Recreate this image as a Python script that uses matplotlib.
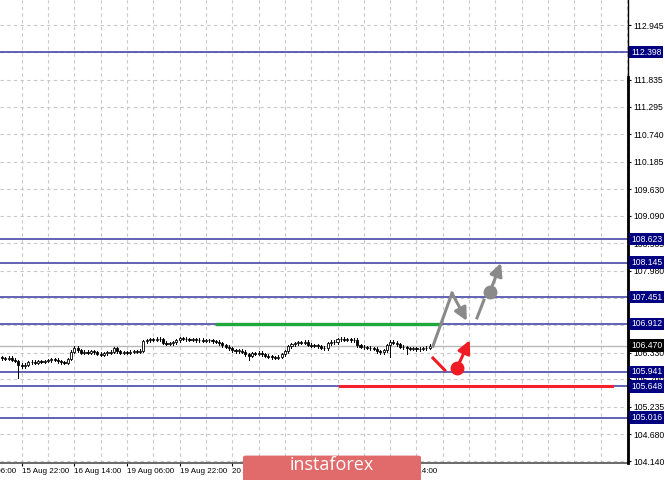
import matplotlib.pyplot as plt
from matplotlib.patches import Rectangle, FancyBboxPatch
from matplotlib.lines import Line2D

plt.rcParams['font.family'] = ['Liberation Sans', 'DejaVu Sans']

# Hourly closes (one per bar);
closes = [
    106.22, 106.20, 106.23, 106.19,
    106.16, 106.08, 106.05, 106.08,
    106.13, 106.14, 106.12, 106.15, 106.14, 106.16,
    106.17, 106.20, 106.19,
    106.15, 106.13, 106.12, 106.20,
    106.35, 106.43,
    106.38, 106.33, 106.35, 106.33, 106.36, 106.34,
    106.31, 106.29, 106.32, 106.33, 106.35,
    106.42,
    106.36, 106.33, 106.34,
    106.33, 106.35, 106.36, 106.35, 106.37,
    106.56,
    106.58, 106.60, 106.59, 106.61, 106.60,
    106.53, 106.51, 106.52, 106.54,
    106.58, 106.62, 106.61,
    106.60, 106.59, 106.60, 106.58, 106.59, 106.57, 106.58, 106.58, 106.56,
    106.55, 106.52, 106.48, 106.45, 106.42,
    106.38, 106.36, 106.37, 106.35,
    106.30, 106.27,
    106.32, 106.31, 106.33, 106.30,
    106.27, 106.25,
    106.24, 106.23, 106.25,
    106.30, 106.36,
    106.46,
    106.50, 106.52, 106.54, 106.53, 106.55,
    106.49, 106.47, 106.48, 106.46,
    106.43, 106.42,
    106.52, 106.55, 106.54,
    106.60, 106.61, 106.59, 106.60, 106.58, 106.59,
    106.48, 106.45, 106.44,
    106.43, 106.42, 106.41,
    106.36, 106.34, 106.38,
    106.48,
    106.55, 106.53, 106.50,
    106.45, 106.44,
    106.42, 106.41, 106.42, 106.40, 106.41, 106.42, 106.43, 106.47,
]
first_open = 106.24
long_lows = {5: 105.82, 75: 106.17, 118: 106.24, 123: 106.30}

# Axis ticks and labels;
x_tick_labels = ['15 Aug 06:00', '15 Aug 22:00', '16 Aug 14:00', '19 Aug 06:00',
                 '19 Aug 22:00', '20 Aug 14:00', '21 Aug 06:00', '21 Aug 22:00',
                 '22 Aug 14:00']
x_tick_first = -10
bars_per_tick = 16
y_ticks = [112.945, 112.390, 111.835, 111.295, 110.740, 110.185, 109.630, 109.090,
           108.535, 107.980, 107.440, 106.885, 106.330, 105.790, 105.235, 104.680,
           104.140]
# tick labels that sit fully under a level box;
y_hidden = [112.390, 107.440, 106.885]

# Levels and forecast paths;
levels = [112.398, 108.623, 108.145, 107.451, 106.912, 105.941, 105.648, 105.016]
current_price = 106.470
green_level = 106.912
green_span = [65.3, 133.1]
red_level = 105.648
red_span = [102.7, 185.4]
gray_path_x = [131.0, 136.8]
gray_path_y = [106.46, 107.53]
gray_arrow = [(136.8, 107.53), (141.3, 106.97)]
gray_dash = [(144.4, 107.03), (146.5, 107.39)]
gray_dot = (148.3, 107.55)
gray_arrow2 = [(148.3, 107.55), (151.7, 108.14)]
red_path_x = [131.0, 134.6]
red_path_y = [106.22, 105.975]
red_dot = (138.3, 106.02)
red_arrow = [(138.3, 106.02), (142.2, 106.58)]

fig = plt.figure(figsize=(6.65, 4.8), dpi=100)
ax = fig.add_axes([0, 17 / 480, 628 / 665, 463 / 480])

# Grid;
for k in range(-2, 25):
    ax.axvline(x_tick_first + 8 * k + 16, color='#c8c8c8',
               lw=0.8, ls=(0, (3, 3)), zorder=0)
for y in y_ticks:
    ax.axhline(y, color='#c8c8c8', lw=0.8, ls=(0, (3, 3)), zorder=0)

# Levels;
for lv in levels:
    ax.axhline(lv, color='#4848a8', lw=1.2, zorder=1)
    ax.annotate(f'{lv:.3f}', xy=(1.0, lv), xycoords=('axes fraction', 'data'),
                xytext=(2.2, 0), textcoords='offset points', va='center', ha='left',
                fontsize=6.2, color='white', annotation_clip=False, zorder=6,
                bbox=dict(boxstyle='square,pad=0.2', fc='#000080', ec='none'))
ax.axhline(current_price, color='#b8b8b8', lw=1, zorder=1)
ax.annotate(f'{current_price:.3f}', xy=(1.0, current_price),
            xycoords=('axes fraction', 'data'), xytext=(2.2, 0),
            textcoords='offset points', va='center', ha='left', fontsize=6.2,
            color='white', annotation_clip=False, zorder=6,
            bbox=dict(boxstyle='square,pad=0.2', fc='black', ec='none'))

# Candles;
prev = first_open
for i, c in enumerate(closes):
    o = prev
    lo = long_lows.get(i, min(o, c) - 0.03)
    hi = max(o, c) + 0.03
    ax.plot([i, i], [lo, hi], color='black', lw=0.7, zorder=2)
    body = max(abs(c - o), 0.012)
    ax.add_patch(Rectangle((i - 0.32, min(o, c)), 0.64, body,
                           fc='white' if c >= o else 'black', ec='black',
                           lw=0.6, zorder=3))
    prev = c

# Support / resistance segments;
ax.plot(green_span, [green_level] * 2, color='#1ea83c', lw=2.4, zorder=4)
ax.plot(red_span, [red_level] * 2, color='#f5222d', lw=2.2, zorder=4)

# Forecast arrows;
gray = '#8a8a8a'
red = '#f01c24'
arrow_kw = dict(arrowstyle='-|>', lw=2.2, mutation_scale=19, shrinkA=0, shrinkB=0)
ax.plot(gray_path_x, gray_path_y, color=gray, lw=2.2, zorder=5)
ax.annotate('', xy=gray_arrow[1], xytext=gray_arrow[0], zorder=5,
            arrowprops=dict(color=gray, **arrow_kw))
ax.plot(*zip(*gray_dash), color=gray, lw=2.2, zorder=5)
ax.plot([gray_dot[0]], [gray_dot[1]], 'o', color=gray, ms=9, zorder=5)
ax.annotate('', xy=gray_arrow2[1], xytext=gray_arrow2[0], zorder=5,
            arrowprops=dict(color=gray, **arrow_kw))
ax.plot(red_path_x, red_path_y, color=red, lw=2.2, zorder=5)
ax.plot([red_dot[0]], [red_dot[1]], 'o', color=red, ms=9, zorder=5)
ax.annotate('', xy=red_arrow[1], xytext=red_arrow[0], zorder=5,
            arrowprops=dict(color=red, **arrow_kw))

# Axes styling;
ax.yaxis.tick_right()
ax.set_yticks(y_ticks)
ax.set_yticklabels(['' if v in y_hidden else f'{v:.3f}' for v in y_ticks])
xt = [x_tick_first + bars_per_tick * k for k in range(len(x_tick_labels))]
ax.set_xticks(xt)
ax.set_xticklabels(x_tick_labels, ha='left')
ax.set_xlim(-0.6, 190.3)
ax.set_ylim(104.10, 113.45)
ax.tick_params(axis='y', labelsize=6.2, length=2.5, width=0.8, pad=1.5,
               colors='black')
ax.tick_params(axis='x', labelsize=5.8, length=2.5, width=0.8, pad=1,
               colors='black')
# first date label is cut by the left edge of the image;
ax.annotate(x_tick_labels[0], xy=(x_tick_first, 0), xycoords=('data', 'axes fraction'),
            xytext=(0, -3.5), textcoords='offset points', ha='left', va='top',
            fontsize=5.8, annotation_clip=False)
for side in ['top', 'left']:
    ax.spines[side].set_visible(False)
ax.spines['right'].set_linewidth(1)
ax.spines['bottom'].set_linewidth(1.2)
ax.spines['bottom'].set_color('#505050')
ax.add_line(Line2D([1, 1], [0, 1 - 77 / 463], transform=ax.transAxes,
                   color='black', lw=2, clip_on=False, zorder=5))

# Watermark;
fig.patches.append(FancyBboxPatch((243 / 665, -0.02), 178 / 665, 34 / 480,
                                  boxstyle='round,pad=0,rounding_size=0.004',
                                  transform=fig.transFigure, fc='#e16a6b',
                                  ec='none', zorder=10))
fig.text(332 / 665, 1 - 465 / 480, 'instaforex', ha='center', va='center',
         color='white', fontsize=13, family=['Open Sans', 'DejaVu Sans'],
         zorder=11)

fig.savefig('out.png', dpi=100, facecolor='white')
